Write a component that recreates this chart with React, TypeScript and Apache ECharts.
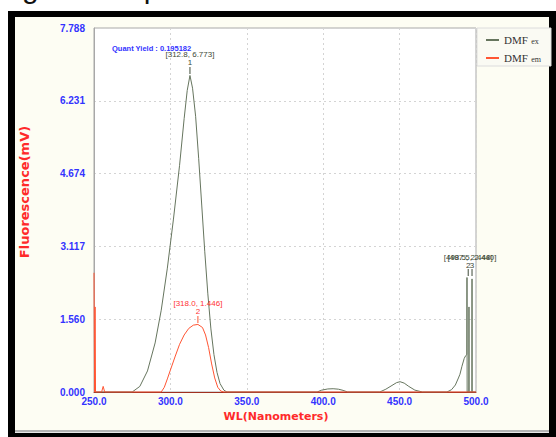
import React, { useEffect, useRef } from "react";
import * as echarts from "echarts";

const X_MIN = 250;
const X_MAX = 500;
const X_INTERVAL = 50;
const Y_MAX = 7.788;
const Y_TICK_LABELS = ["0.000", "1.560", "3.117", "4.674", "6.231", "7.788"];

const exWavelength = [
  250, 275, 280, 285, 290, 294, 298, 302, 306, 309, 311, 312.8, 314.5, 316.5, 318.5, 320.5,
  322.5, 324.5, 326.5, 328.5, 330.5, 332.5, 335, 337, 396, 399, 403, 406.5, 410, 413, 416,
  437, 441, 445, 448, 450.3, 453, 456, 460, 465, 481, 484, 486.5, 488.5, 489.5, 490.8, 492.3,
  493.3, 494.0, 494.1, 494.2, 495.3, 495.4, 495.5, 497.3, 497.4, 497.5, 500,
];
const exIntensity = [
  0, 0, 0.12, 0.45, 1.05, 1.75, 2.65, 3.7, 4.85, 5.85, 6.45, 6.773, 6.5, 5.9, 5.0, 4.0,
  3.0, 2.1, 1.35, 0.8, 0.42, 0.18, 0.04, 0, 0, 0.04, 0.065, 0.07, 0.06, 0.035, 0,
  0, 0.06, 0.14, 0.2, 0.22, 0.19, 0.12, 0.04, 0, 0, 0.05, 0.15, 0.3, 0.38, 0.55, 0.72,
  0.78, 0.8, 2.45, 0, 0, 1.82, 0, 0, 2.42, 0, 0,
];

const emWavelength = [
  250, 250.4, 250.7, 251, 255, 256, 257, 294, 296, 298, 300, 303, 306, 309, 312, 315, 318,
  321, 323, 325, 327, 329, 331, 333, 335, 500,
];
const emIntensity = [
  2.55, 0, 1.82, 0, 0, 0.12, 0, 0, 0.1, 0.28, 0.47, 0.75, 1.02, 1.22, 1.36, 1.43, 1.446,
  1.38, 1.22, 0.95, 0.6, 0.3, 0.1, 0.02, 0, 0,
];

const seriesNames = ["DMF ex", "DMF em"];
const exPeak = [312.8, 6.773];
const emPeak = [318.0, 1.446];
const exSpikePeaks = [
  [494.9, 2.448],
  [497.4, 2.448],
];
const exSpikeLabels = ["[498.5, 2.448]", "[497.5, 2.440]"];
const exSpikeNumbers = ["2", "3"];
const quantYield = "Quant Yield : 0.195182";
const captionText = "Figure 3: Spectra";

const GREEN = "#66755e";
const RED = "#ff5533";
const BLUE = "#3333ff";

export default function App() {
  const ref = useRef<HTMLDivElement>(null);

  useEffect(() => {
    if (!ref.current) return;
    const chart = echarts.init(ref.current, null, { renderer: "svg" });
    const exData = exWavelength.map((w, i) => [w, exIntensity[i]]);
    const emData = emWavelength.map((w, i) => [w, emIntensity[i]]);
    const yInterval = Y_MAX / 5;

    const peakLabel = (text: string, num: string, color: string) => ({
      show: true,
      position: "top",
      distance: 0,
      formatter: `{t|${text}}\n{n|${num}}`,
      rich: {
        t: { fontSize: 8, color, fontFamily: "Liberation Sans", lineHeight: 8 },
        n: { fontSize: 8, color, fontFamily: "Liberation Sans", lineHeight: 8 },
      },
    });

    chart.setOption({
      animation: false,
      backgroundColor: "#ffffff",
      grid: {
        left: 94,
        top: 28,
        right: 80,
        bottom: 45,
        show: true,
        backgroundColor: "#ffffff",
        borderColor: "#a8a8a8",
        borderWidth: 1,
      },
      legend: {
        orient: "vertical",
        left: 481,
        top: 29,
        icon: "rect",
        itemWidth: 13,
        itemHeight: 2,
        itemGap: 6,
        data: seriesNames,
        formatter: (name: string) => {
          const [m, s] = name.split(" ");
          return `{a|${m}} {b|${s}}`;
        },
        textStyle: {
          rich: {
            a: { fontFamily: "Liberation Serif", fontSize: 11, color: "#333" },
            b: { fontFamily: "Liberation Serif", fontSize: 8, color: "#333", padding: [3, 0, 0, 0] },
          },
        },
      },
      xAxis: {
        type: "value",
        min: X_MIN,
        max: X_MAX,
        interval: X_INTERVAL,
        axisLine: { show: true, lineStyle: { color: "#a03020", width: 1 } },
        axisTick: { show: false },
        axisLabel: {
          formatter: (v: number) => v.toFixed(1),
          color: BLUE,
          fontWeight: "bold",
          fontSize: 10,
          fontFamily: "Liberation Sans",
          margin: 4,
        },
        splitLine: { show: true, lineStyle: { color: "#d4d4d4", type: [2, 3] } },
      },
      yAxis: {
        type: "value",
        min: 0,
        max: Y_MAX,
        interval: yInterval,
        axisLine: { show: true, lineStyle: { color: "#a8a8a8" } },
        axisTick: { show: false },
        axisLabel: {
          formatter: (v: number) => Y_TICK_LABELS[Math.round(v / yInterval)] ?? "",
          color: BLUE,
          fontWeight: "bold",
          fontSize: 10,
          fontFamily: "Liberation Sans",
          margin: 9,
        },
        splitLine: { show: true, lineStyle: { color: "#d4d4d4", type: [2, 3] } },
      },
      graphic: [
        { type: "rect", z: -20, shape: { x: 8, y: 11, width: 560, height: 440 }, style: { fill: "#000" } },
        { type: "rect", z: -19, shape: { x: 15, y: 17, width: 534, height: 413 }, style: { fill: "#fdfdf3" } },
        { type: "rect", z: -18, shape: { x: 15, y: 430, width: 534, height: 2 }, style: { fill: "#b4b4b4" } },
        { type: "rect", z: -18, shape: { x: 15, y: 432, width: 534, height: 1 }, style: { fill: "#e8e8e8" } },
        {
          type: "text",
          z: 5,
          x: -3,
          y: -13,
          style: { text: captionText, font: "30px 'Liberation Sans'", fill: "#111", verticalAlign: "middle" },
        },
        {
          type: "rect",
          z: -17,
          shape: { x: 477, y: 28, width: 74, height: 38 },
          style: { fill: "#fafaf3", stroke: "#dcdcdc", lineWidth: 1 },
        },
        {
          type: "text",
          x: 276,
          y: 416,
          style: {
            text: "WL(Nanometers)",
            font: "bold 11px 'DejaVu Sans'",
            fill: "#ff2a2a",
            align: "center",
            verticalAlign: "middle",
          },
        },
        {
          type: "text",
          x: 24,
          y: 192,
          rotation: Math.PI / 2,
          style: {
            text: "Fluorescence(mV)",
            font: "bold 13px 'DejaVu Sans'",
            fill: "#ff2a2a",
            align: "center",
            verticalAlign: "middle",
          },
        },
        {
          type: "text",
          x: 112,
          y: 48,
          z: 10,
          style: {
            text: quantYield,
            font: "bold 7.5px 'Liberation Sans'",
            fill: BLUE,
            align: "left",
            verticalAlign: "middle",
          },
        },
      ],
      series: [
        {
          name: seriesNames[0],
          type: "line",
          data: exData,
          showSymbol: false,
          color: GREEN,
          lineStyle: { color: GREEN, width: 1 },
          z: 2,
          markPoint: {
            symbol: "rect",
            symbolSize: [1, 7],
            symbolOffset: [0, -5],
            itemStyle: { color: "#3e4a38" },
            data: [
              { coord: exPeak, label: peakLabel(`[${exPeak[0].toFixed(1)}, ${exPeak[1].toFixed(3)}]`, "1", "#3e4a38") },
              ...exSpikePeaks.map((c, i) => ({
                coord: c,
                label: peakLabel(exSpikeLabels[i], exSpikeNumbers[i], "#3e4a38"),
              })),
            ],
          },
        },
        {
          name: seriesNames[1],
          type: "line",
          data: emData,
          showSymbol: false,
          color: RED,
          lineStyle: { color: RED, width: 1 },
          z: 3,
          markPoint: {
            symbol: "rect",
            symbolSize: [1, 7],
            symbolOffset: [0, -5],
            itemStyle: { color: RED },
            data: [
              { coord: emPeak, label: peakLabel(`[${emPeak[0].toFixed(1)}, ${emPeak[1].toFixed(3)}]`, "2", "#ff3333") },
            ],
          },
        },
      ],
    });
    return () => chart.dispose();
  }, []);

  return <div ref={ref} style={{ position: "fixed", left: 0, top: 0, width: 556, height: 437 }} />;
}
